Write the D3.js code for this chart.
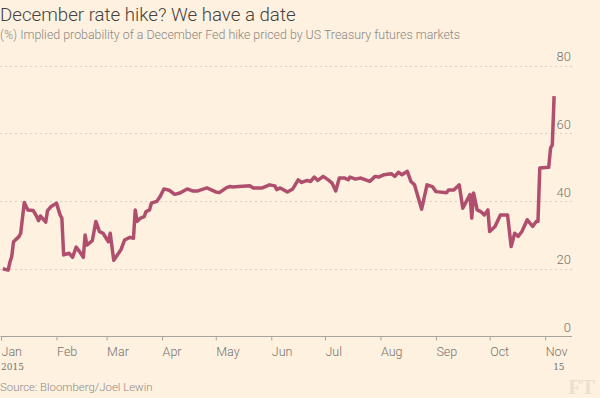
<!DOCTYPE html>
<html>
<head>
<meta charset="utf-8">
<script src="https://cdn.jsdelivr.net/npm/d3@7"></script>
<style>
  body { margin: 0; background: #fff1e0; }
  svg { display: block; font-family: Roboto, "Open Sans", sans-serif; }
</style>
</head>
<body>
<svg id="chart" width="600" height="398"></svg>
<script>
// implied probability (%) of a December hike
var dates = ["2015-01-02","2015-01-05","2015-01-06","2015-01-07","2015-01-08","2015-01-11","2015-01-12","2015-01-14","2015-01-16","2015-01-19",
  "2015-01-21","2015-01-22","2015-01-23","2015-01-26","2015-01-27","2015-01-29","2015-02-01","2015-02-03","2015-02-04","2015-02-05",
  "2015-02-08","2015-02-10","2015-02-12","2015-02-14","2015-02-16","2015-02-17","2015-02-18","2015-02-21","2015-02-23","2015-02-25",
  "2015-02-27","2015-03-02","2015-03-03","2015-03-05","2015-03-07","2015-03-09","2015-03-11","2015-03-14","2015-03-16","2015-03-17",
  "2015-03-18","2015-03-20","2015-03-22","2015-03-23","2015-03-25","2015-03-26","2015-03-29","2015-03-31","2015-04-02","2015-04-05",
  "2015-04-08","2015-04-11","2015-04-15","2015-04-18","2015-04-21","2015-04-26","2015-05-01","2015-05-03","2015-05-07","2015-05-09",
  "2015-05-10","2015-05-14","2015-05-20","2015-05-22","2015-05-27","2015-05-31","2015-06-03","2015-06-04","2015-06-06","2015-06-10",
  "2015-06-13","2015-06-16","2015-06-18","2015-06-21","2015-06-23","2015-06-25","2015-06-27","2015-06-30","2015-07-03","2015-07-05",
  "2015-07-07","2015-07-09","2015-07-12","2015-07-14","2015-07-15","2015-07-18","2015-07-21","2015-07-26","2015-07-29","2015-07-31",
  "2015-08-03","2015-08-07","2015-08-09","2015-08-11","2015-08-13","2015-08-16","2015-08-18","2015-08-20","2015-08-24","2015-08-27",
  "2015-08-30","2015-09-01","2015-09-07","2015-09-08","2015-09-11","2015-09-14","2015-09-16","2015-09-18","2015-09-20","2015-09-21",
  "2015-09-22","2015-09-24","2015-09-26","2015-09-28","2015-09-30","2015-10-01","2015-10-04","2015-10-07","2015-10-11","2015-10-13",
  "2015-10-15","2015-10-17","2015-10-19","2015-10-22","2015-10-25","2015-10-27","2015-10-28","2015-10-29","2015-11-03","2015-11-04",
  "2015-11-05","2015-11-06"];
var probability = [20, 19.6, 22, 23.6, 28, 29.5, 30.5, 39.6, 37.4, 37.2,
  35.4, 34.2, 35.6, 33.8, 37.2, 38.4, 39.4, 35.9, 35, 24.1,
  24.6, 23.4, 26.4, 25, 23.4, 30, 27, 28.3, 34, 31,
  30.5, 28, 30.5, 22.5, 24.1, 25.6, 28.5, 29.3, 29, 37.4,
  34, 35, 35.4, 36.9, 37.4, 39.4, 39.9, 41.4, 43.6, 43.2,
  42, 42.4, 43.6, 43, 43, 43.9, 42.7, 42.5, 44, 44.3,
  44.2, 44.3, 44.5, 43.9, 43.9, 44.8, 44.5, 43.4, 43.9, 42.7,
  43.6, 46.3, 45.5, 46.1, 45.8, 47.1, 46.1, 47.3, 46.2, 45.3,
  43, 46.8, 46.8, 46.3, 47.1, 46.5, 46.8, 45.8, 47.3, 47.1,
  47.8, 48.1, 47.3, 48.5, 47.8, 48.8, 45.8, 44.8, 37.6, 44.8,
  44.3, 42.8, 42.5, 43.3, 43.3, 44.8, 37.9, 39.9, 41.9, 35,
  42.4, 37.4, 36.9, 35.9, 37.4, 31, 32.5, 35.9, 35.9, 26.6,
  30.5, 29.6, 31, 34.5, 32.5, 34, 34, 49.8, 50, 55.6,
  56.6, 71];

var yTicks = [0, 20, 40, 60, 80];
var monthLabels = ["Jan","Feb","Mar","Apr","May","Jun","Jul","Aug","Sep","Oct","Nov"];

var parseDate = d3.timeParse("%Y-%m-%d");
var data = dates.map(function(d, i) { return { date: parseDate(d), value: probability[i] }; });

var svg = d3.select("#chart");
svg.append("rect").attr("width", 600).attr("height", 398).attr("fill", "#fff1e0");

var x = d3.scaleTime().domain([new Date(2015, 0, 1), new Date(2015, 10, 16)]).range([1, 572]);
var y = d3.scaleLinear().domain([0, 80]).range([336.5, 65.7]);

// title + subtitle
svg.append("text")
    .attr("x", 0).attr("y", 21)
    .style("font-size", "18.7px").style("font-weight", 300)
    .attr("fill", "#43423e")
    .text("December rate hike? We have a date");
svg.append("text")
    .attr("x", 0).attr("y", 39)
    .style("font-size", "12.4px").style("font-weight", 300)
    .attr("fill", "#8a8680")
    .text("(%) Implied probability of a December Fed hike priced by US Treasury futures markets");

// gridlines
svg.append("g").selectAll("line")
    .data(yTicks.filter(function(d) { return d > 0; }))
    .enter().append("line")
    .attr("x1", 0).attr("x2", 572)
    .attr("y1", function(d) { return Math.round(y(d)) + 0.5; })
    .attr("y2", function(d) { return Math.round(y(d)) + 0.5; })
    .attr("stroke", "#d9cfc3").attr("stroke-dasharray", "2,3");

// y labels sit above the gridlines, on the right
svg.append("g").selectAll("text")
    .data(yTicks)
    .enter().append("text")
    .attr("x", 571).attr("y", function(d) { return y(d) - 4.5; })
    .attr("text-anchor", "end")
    .style("font-size", "13px").style("font-weight", 300)
    .attr("fill", "#74736c")
    .text(function(d) { return d; });

// x axis
var xAxis = d3.axisBottom(x)
    .tickValues(d3.range(0, 11).map(function(m) { return new Date(2015, m, 1); }))
    .tickSize(4)
    .tickFormat(function(d, i) { return monthLabels[i]; });
var gx = svg.append("g").attr("transform", "translate(0,336.5)").call(xAxis);
gx.select(".domain").attr("stroke", "#a7a59b").attr("d", "M0.5,0H572");
gx.selectAll(".tick line").attr("stroke", "#a7a59b");
gx.selectAll(".tick text")
    .attr("text-anchor", "start").attr("x", 0).attr("dy", 0).attr("y", 19.5)
    .style("font-family", "Roboto, sans-serif").style("font-size", "12.5px").style("font-weight", 300)
    .attr("fill", "#74736c");

svg.append("text")
    .attr("x", 1).attr("y", 370)
    .style("font-family", "'DejaVu Serif', serif").style("font-size", "9px")
    .attr("fill", "#74736c")
    .text("2015");
svg.append("text")
    .attr("x", x(new Date(2015, 10, 1)) + 8).attr("y", 370)
    .style("font-family", "'DejaVu Serif', serif").style("font-size", "9px")
    .attr("fill", "#74736c")
    .text("15");

// the line
var line = d3.line()
    .x(function(d) { return x(d.date); })
    .y(function(d) { return y(d.value); });
svg.append("path")
    .datum(data)
    .attr("d", line)
    .attr("fill", "none")
    .attr("stroke", "#b04e6e")
    .attr("stroke-width", 3.5)
    .attr("stroke-linejoin", "round");

// footer
svg.append("text")
    .attr("x", 0).attr("y", 391)
    .style("font-size", "11.4px").style("font-weight", 300)
    .attr("fill", "#8d8a84")
    .text("Source: Bloomberg/Joel Lewin");
svg.append("text")
    .attr("x", 595).attr("y", 394)
    .attr("text-anchor", "end")
    .style("font-family", "'Liberation Serif', serif").style("font-size", "21px").style("font-weight", "bold")
    .attr("fill", "#ecdfce")
    .text("FT");
</script>
</body>
</html>
